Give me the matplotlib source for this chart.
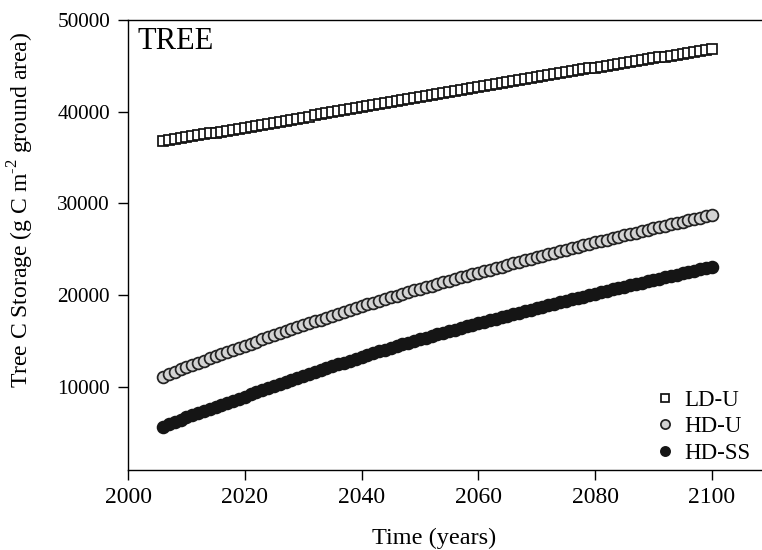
import numpy as np
import matplotlib
matplotlib.use('Agg')
import matplotlib.pyplot as plt

years = np.arange(2006, 2101)

ld_u = [
    36800, 36900, 37010, 37110, 37220, 37320, 37420, 37530, 37630, 37730,
    37840, 37940, 38040, 38150, 38250, 38360, 38470, 38590, 38700, 38810,
    38920, 39030, 39150, 39260, 39370, 39480, 39600, 39710, 39820, 39940,
    40050, 40160, 40270, 40390, 40500, 40610, 40720, 40840, 40950, 41060,
    41170, 41280, 41400, 41510, 41620, 41730, 41840, 41950, 42060, 42170,
    42290, 42400, 42510, 42620, 42730, 42830, 42940, 43050, 43150, 43260,
    43370, 43470, 43580, 43680, 43790, 43890, 43990, 44100, 44200, 44300,
    44410, 44510, 44610, 44720, 44820, 44920, 45020, 45120, 45220, 45320,
    45420, 45520, 45620, 45720, 45820, 45920, 46020, 46120, 46220, 46320,
    46410, 46510, 46610, 46710, 46810,
]

hd_u = [
    11120, 11400, 11670, 11920, 12170, 12400, 12640, 12870, 13110, 13340,
    13570, 13810, 14040, 14280, 14510, 14730, 14950, 15180, 15400, 15620,
    15840, 16060, 16290, 16510, 16730, 16940, 17150, 17350, 17560, 17770,
    17980, 18190, 18390, 18600, 18810, 19000, 19190, 19380, 19570, 19760,
    19950, 20140, 20330, 20520, 20710, 20890, 21060, 21240, 21410, 21590,
    21760, 21940, 22110, 22290, 22460, 22630, 22800, 22960, 23130, 23300,
    23470, 23640, 23800, 23970, 24140, 24300, 24460, 24630, 24790, 24950,
    25110, 25270, 25440, 25600, 25760, 25910, 26060, 26220, 26370, 26520,
    26670, 26820, 26980, 27130, 27280, 27430, 27580, 27720, 27870, 28020,
    28170, 28320, 28460, 28610, 28760,
]

hd_ss = [
    5670, 5940, 6200, 6440, 6680, 6910, 7140, 7360, 7590, 7820,
    8050, 8280, 8500, 8730, 8960, 9180, 9400, 9630, 9850, 10070,
    10290, 10510, 10740, 10960, 11180, 11390, 11600, 11820, 12030, 12240,
    12450, 12660, 12880, 13090, 13300, 13490, 13680, 13870, 14060, 14250,
    14440, 14630, 14820, 15010, 15200, 15380, 15550, 15730, 15900, 16080,
    16260, 16430, 16610, 16780, 16960, 17120, 17290, 17450, 17620, 17780,
    17940, 18110, 18270, 18440, 18600, 18760, 18920, 19070, 19230, 19390,
    19550, 19710, 19860, 20020, 20180, 20330, 20480, 20630, 20780, 20930,
    21080, 21230, 21380, 21530, 21680, 21820, 21970, 22110, 22250, 22400,
    22540, 22680, 22820, 22970, 23110,
]

plt.rcParams['font.family'] = ['Liberation Serif', 'DejaVu Serif']
plt.rcParams['mathtext.fontset'] = 'custom'
plt.rcParams['mathtext.rm'] = 'Liberation Serif'

fig = plt.figure(figsize=(7.62, 5.50), dpi=100)
ax = fig.add_axes([128 / 762, 80 / 550, 634 / 762, 450 / 550])

ax.plot(years, ld_u, 's', ms=7.6, mfc='white', mec='#111111', mew=1.25, label='LD-U')
ax.plot(years, hd_u, 'o', ms=8.5, mfc='#d3d3d3', mec='#222222', mew=1.25, label='HD-U')
ax.plot(years, hd_ss, 'o', ms=8.5, mfc='#151515', mec='#151515', mew=1.25, label='HD-SS')

ax.set_xlim(2000, 2108.6)
ax.set_ylim(950, 50000)
ax.set_xticks([2000, 2020, 2040, 2060, 2080, 2100])
ax.set_yticks([10000, 20000, 30000, 40000, 50000])

ax.spines['right'].set_visible(False)
for s in ['left', 'bottom', 'top']:
    ax.spines[s].set_linewidth(1.0)
ax.tick_params(direction='out', length=7, width=1.0)
ax.tick_params(axis='x', labelsize=17, pad=5)
ax.tick_params(axis='y', labelsize=15.3, pad=6)

ax.set_xlabel('Time (years)', fontsize=17.5)
ax.set_ylabel(r'Tree C Storage (g C m$^{\text{-}2}$ ground area)', fontsize=17)
ax.xaxis.set_label_coords(0.483, -0.128)
ax.yaxis.set_label_coords(-0.145, 0.579)

ax.text(0.0142, 0.9356, 'TREE', transform=ax.transAxes, fontsize=22,
        va='baseline', ha='left')

ax.legend(loc='lower right', frameon=False, fontsize=16.5, markerscale=0.78,
          handlelength=0.8, handletextpad=0.43, labelspacing=0.245,
          borderpad=0, borderaxespad=0,
          bbox_to_anchor=(750 / 762, 86 / 550), bbox_transform=fig.transFigure)

fig.savefig('out.png', dpi=100)
